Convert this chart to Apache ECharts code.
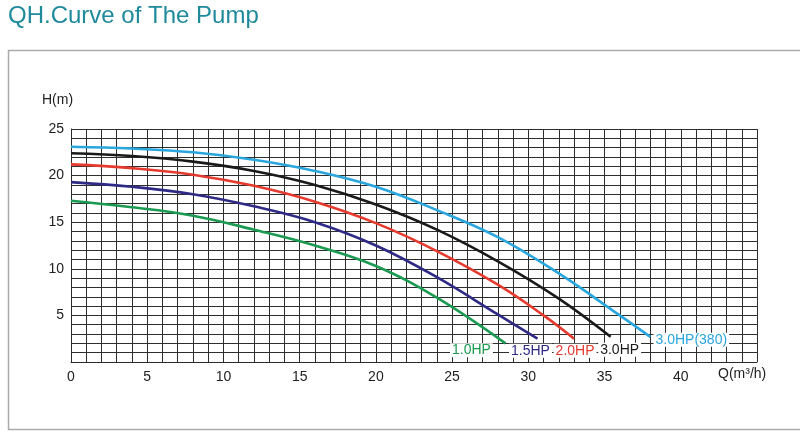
<!DOCTYPE html>
<html>
<head>
<meta charset="utf-8">
<style>
html,body{margin:0;padding:0;background:#fff;}
#chart{width:800px;height:433px;}
</style>
<script src="https://cdn.jsdelivr.net/npm/echarts@6/dist/echarts.min.js"></script>
</head>
<body>
<div id="chart"></div>
<script>
// Data (Q in m3/h, H in m)
var q10 = [0, 4, 8, 12, 16, 20, 24, 28.5];
var h10 = [17.3, 16.6, 15.7, 14.2, 12.5, 10.3, 6.9, 2.0];

var q15 = [0, 4, 8, 12, 16, 20, 24, 28, 30.6];
var h15 = [19.3, 18.8, 18.0, 16.7, 15.0, 12.5, 9.1, 5.1, 2.5];

var q20 = [0, 4, 8, 12, 16, 20, 24, 28, 31, 33];
var h20 = [21.2, 20.8, 20.1, 18.9, 17.2, 14.9, 11.9, 8.3, 5.0, 2.5];

var q30 = [0, 4, 8, 12, 16, 20, 24, 28, 32, 35.4];
var h30 = [22.4, 22.1, 21.5, 20.5, 19.0, 16.9, 14.2, 10.8, 6.8, 2.7];

var q380 = [0, 4, 8, 12, 16, 20, 24, 28, 32, 36, 38];
var h380 = [23.1, 22.9, 22.5, 21.7, 20.5, 18.8, 16.3, 13.4, 9.5, 5.0, 2.7];

var seriesNames = ['1.0HP', '1.5HP', '2.0HP', '3.0HP', '3.0HP(380)'];
var xTickLabels = [0, 5, 10, 15, 20, 25, 30, 35, 40];
var yTickLabels = [5, 10, 15, 20, 25];

var colors = ['#1b9a52', '#2e2a86', '#e53a2e', '#1a1a1a', '#2aa6de'];
var labelOffsets = [[-34, 7], [-7, 12], [1, 12], [9, 13], [41, 3]];

function pairs(qs, hs) {
  return qs.map(function (q, i) { return [q, hs[i]]; });
}
var allData = [pairs(q10, h10), pairs(q15, h15), pairs(q20, h20), pairs(q30, h30), pairs(q380, h380)];

var series = allData.map(function (d, k) {
  var data = d.map(function (p, i) {
    if (i === d.length - 1) {
      return {
        value: p,
        label: {
          show: true,
          position: 'inside',
          offset: labelOffsets[k],
          formatter: seriesNames[k],
          color: colors[k],
          fontSize: 14,
          fontFamily: 'Liberation Sans, Arial, sans-serif',
          backgroundColor: '#ffffff',
          padding: [0, 2, 0, 2]
        }
      };
    }
    return p;
  });
  return {
    name: seriesNames[k],
    type: 'line',
    smooth: 0.4,
    showSymbol: true,
    showAllSymbol: true,
    symbol: 'circle',
    symbolSize: 0,
    data: data,
    lineStyle: { color: colors[k], width: 2.6 },
    itemStyle: { color: colors[k] },
    z: 3 + k
  };
});

var chart = echarts.init(document.getElementById('chart'), null, { renderer: 'canvas' });
chart.setOption({
  animation: false,
  backgroundColor: '#ffffff',
  grid: { left: 71, top: 129, width: 686, height: 233, containLabel: false },
  xAxis: {
    type: 'value', min: 0, max: 45, interval: 1,
    axisLine: { show: true, lineStyle: { color: '#2a2a2a', width: 1 } },
    axisTick: { show: false },
    splitLine: { show: true, lineStyle: { color: '#2e2e2e', width: 1 } },
    axisLabel: {
      margin: 8, color: '#222', fontSize: 14, fontFamily: 'Liberation Sans, Arial, sans-serif',
      formatter: function (v) { return xTickLabels.indexOf(v) >= 0 ? String(v) : ''; }
    }
  },
  yAxis: {
    type: 'value', min: 0, max: 25, interval: 1,
    axisLine: { show: true, lineStyle: { color: '#2a2a2a', width: 1 } },
    axisTick: { show: false },
    splitLine: { show: true, lineStyle: { color: '#2e2e2e', width: 1 } },
    axisLabel: {
      margin: 7, color: '#222', fontSize: 14, fontFamily: 'Liberation Sans, Arial, sans-serif',
      formatter: function (v) { return yTickLabels.indexOf(v) >= 0 ? String(v) : ''; }
    }
  },
  graphic: [
    { type: 'rect', shape: { x: 8.5, y: 50.5, width: 800, height: 379 }, style: { fill: 'none', stroke: '#aaaaaa', lineWidth: 1.5 }, z: -1 },
    { type: 'text', left: 8, top: 4, style: { text: 'QH.Curve of The Pump', fill: '#1f8a9c', font: '24px "Liberation Sans", Arial, sans-serif' } },
    { type: 'text', left: 42, top: 93, style: { text: 'H(m)', fill: '#222', font: '14px "Liberation Sans", Arial, sans-serif' } },
    { type: 'text', left: 718, top: 367, style: { text: 'Q(m³/h)', fill: '#222', font: '14px "Liberation Sans", Arial, sans-serif' } }
  ],
  series: series
});
</script>
</body>
</html>
